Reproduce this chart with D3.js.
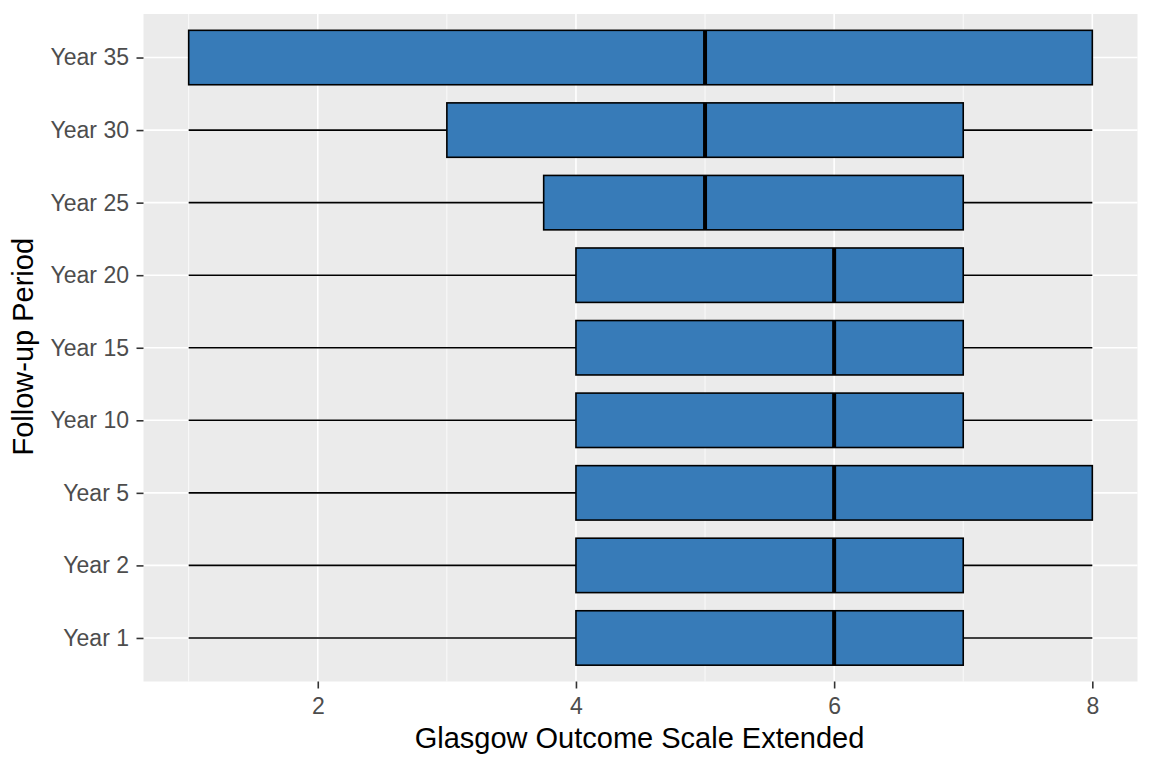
<!DOCTYPE html>
<html><head><meta charset="utf-8">
<script src="https://cdn.jsdelivr.net/npm/d3@7"></script>
<style>body{margin:0;background:#fff;} text{font-family:"Liberation Sans",Arial,sans-serif;}</style>
</head><body><svg id="c" width="1152" height="768"></svg>
<script>
const categories = ["Year 1","Year 2","Year 5","Year 10","Year 15","Year 20","Year 25","Year 30","Year 35"];
const whiskerLow = [1,1,1,1,1,1,1,1,1];
const q1 = [4,4,4,4,4,4,3.75,3,1];
const median = [6,6,6,6,6,6,5,5,5];
const q3 = [7,7,8,7,7,7,7,7,8];
const whiskerHigh = [8,8,8,8,8,8,8,8,8];
const xTicks = [2,4,6,8];
const xMinor = [1,3,5,7];

const svg = d3.select("#c");
const L = 143.5, R = 1137.5, T = 14, B = 681.5;
const x = d3.scaleLinear().domain([0.65, 8.35]).range([L, R]);
const yC = d3.scalePoint().domain(categories).range([B, T]).padding(0.6);
const step = yC.step();

svg.append("rect").attr("x", L).attr("y", T).attr("width", R-L).attr("height", B-T).attr("fill", "#EBEBEB");
const g = svg.append("g");
xMinor.forEach(v => g.append("line").attr("x1", x(v)).attr("x2", x(v)).attr("y1", T).attr("y2", B).attr("stroke", "#fff").attr("stroke-width", 0.8));
xTicks.forEach(v => g.append("line").attr("x1", x(v)).attr("x2", x(v)).attr("y1", T).attr("y2", B).attr("stroke", "#fff").attr("stroke-width", 1.6));
categories.forEach(c => g.append("line").attr("x1", L).attr("x2", R).attr("y1", yC(c)).attr("y2", yC(c)).attr("stroke", "#fff").attr("stroke-width", 1.6));

const data = categories.map((c,i) => ({c, lo: whiskerLow[i], q1: q1[i], med: median[i], q3: q3[i], hi: whiskerHigh[i]}));
const bh = step * 0.75;
const bx = svg.append("g");
data.forEach(d => {
  const cy = yC(d.c);
  if (d.lo < d.q1) bx.append("line").attr("x1", x(d.lo)).attr("x2", x(d.q1)).attr("y1", cy).attr("y2", cy).attr("stroke", "#000").attr("stroke-width", 1.6);
  if (d.hi > d.q3) bx.append("line").attr("x1", x(d.q3)).attr("x2", x(d.hi)).attr("y1", cy).attr("y2", cy).attr("stroke", "#000").attr("stroke-width", 1.6);
  bx.append("rect").attr("x", x(d.q1)).attr("y", cy - bh/2).attr("width", x(d.q3) - x(d.q1)).attr("height", bh)
    .attr("fill", "#377BB8").attr("stroke", "#000").attr("stroke-width", 1.6);
  bx.append("line").attr("x1", x(d.med)).attr("x2", x(d.med)).attr("y1", cy - bh/2).attr("y2", cy + bh/2).attr("stroke", "#000").attr("stroke-width", 4);
});

const xa = svg.append("g").attr("transform", `translate(0,${B})`)
  .call(d3.axisBottom(x).tickValues(xTicks).tickSize(7).tickPadding(9).tickFormat(d3.format("d")));
xa.select(".domain").remove();
xa.selectAll("line").attr("stroke", "#333").attr("stroke-width", 1.6);
xa.selectAll("text").attr("fill", "#4D4D4D").style("font-size", "23px");

const ya = svg.append("g").attr("transform", `translate(${L},0)`)
  .call(d3.axisLeft(yC).tickSize(7).tickPadding(7.5));
ya.select(".domain").remove();
ya.selectAll("line").attr("stroke", "#333").attr("stroke-width", 1.6);
ya.selectAll("text").attr("fill", "#4D4D4D").style("font-size", "23px");

svg.append("text").attr("x", (L+R)/2 - 1).attr("y", 748).attr("text-anchor", "middle").style("font-size", "29px").attr("fill", "#000").text("Glasgow Outcome Scale Extended");
svg.append("text").attr("transform", `translate(33,${(T+B)/2 - 1}) rotate(-90)`).attr("text-anchor", "middle").style("font-size", "29px").attr("fill", "#000").text("Follow-up Period");
</script></body></html>
